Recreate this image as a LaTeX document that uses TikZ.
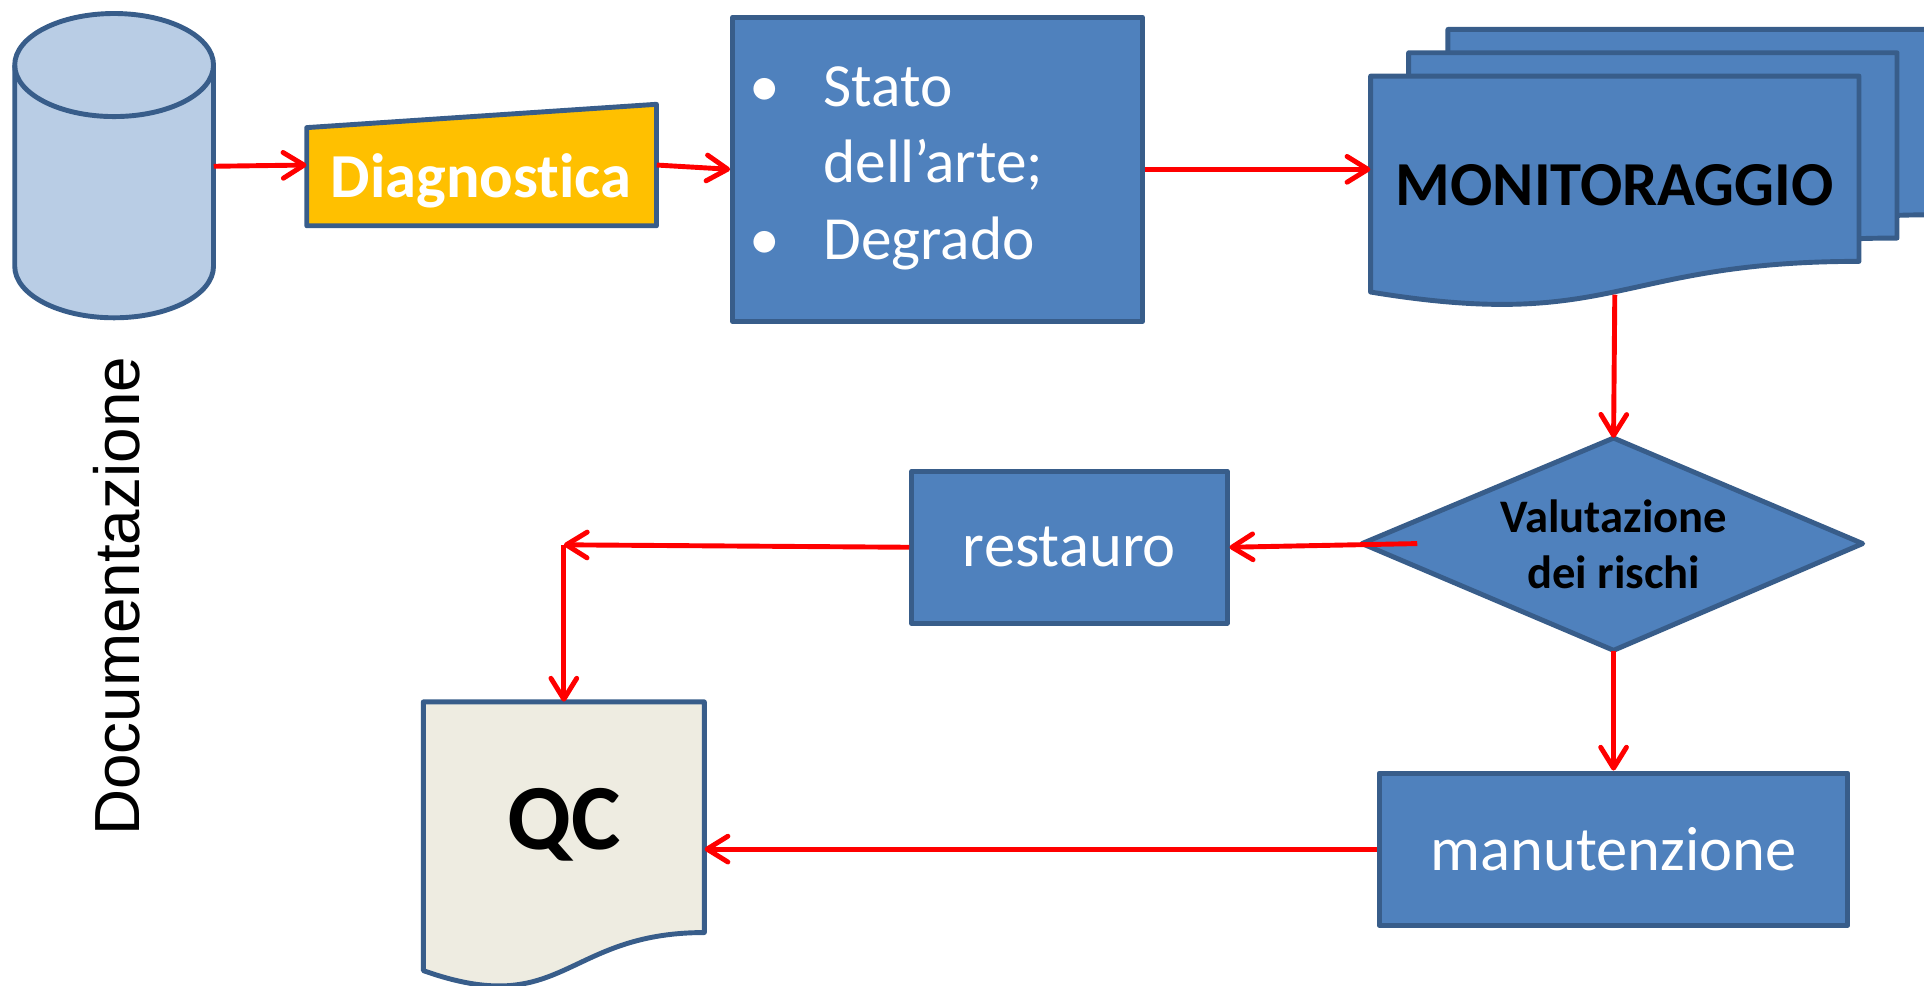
\documentclass[tikz,border=0pt]{standalone}
\usepackage{fontspec}
\newfontfamily\calfont[Ligatures=NoCommon]{Carlito}
\newfontfamily\arialfont{Liberation Sans}
\usetikzlibrary{arrows.meta}
\definecolor{boxfill}{HTML}{4F81BD}
\definecolor{boxline}{HTML}{385D8A}
\definecolor{cylfill}{HTML}{B9CDE5}
\definecolor{diagfill}{HTML}{FFC000}
\definecolor{qcfill}{HTML}{EEECE1}
\definecolor{arrred}{HTML}{FF0000}
\begin{document}
\begin{tikzpicture}[x=1pt,y=-1pt,
  shapeline/.style={draw=boxline,line width=4pt,line join=round},
  bluebox/.style={rectangle,shapeline,fill=boxfill,inner sep=0pt,anchor=north west,text=white,font=\calfont\fontsize{51}{60}\selectfont},
  ghost/.style={rectangle,draw=none,inner sep=0pt},
  arr/.style={draw=arrred,line width=4pt,-{Straight Barb[length=17pt,width=21pt,line width=4pt,round]}},
  bigbold/.style={font=\calfont\bfseries\fontsize{51}{60}\selectfont}]
\useasboundingbox (0,0) rectangle (1568,803);
\clip (0,0) rectangle (1568,803);

% cylinder
\draw[shapeline,fill=cylfill] (12,53) -- (12,217) arc[start angle=180,end angle=360,x radius=81pt,y radius=42pt]
  -- (174,53) arc[start angle=0,end angle=180,x radius=81pt,y radius=42pt] -- cycle;
\draw[shapeline] (12,53) arc[start angle=180,end angle=360,x radius=81pt,y radius=42pt];
\node[ghost,minimum width=162pt,minimum height=247pt] (cyl) at (93,135.5) {};
\node[rotate=90,font=\arialfont\fontsize{52}{60}\selectfont] (doc) at (95,486) {Documentazione};

% Diagnostica
\draw[shapeline,fill=diagfill] (250,104) -- (535,85) -- (535,184) -- (250,184) -- cycle;
\node[ghost,minimum width=285pt,minimum height=99pt] (diag) at (392.5,134.5) {};
\node[bigbold,text=white] (diagtxt) at (392,147) {Diagnostica};

% Stato box
\node[bluebox,minimum width=334pt,minimum height=248pt] (stato) at (595,12) {};
\node[anchor=west,align=left,inner sep=0pt,text=white,font=\calfont\fontsize{50}{62.5}\selectfont] (statotxt) at (611,137)
  {\makebox[60pt][l]{\textbullet}Stato\\\hspace*{60pt}dell’arte;\\\makebox[60pt][l]{\textbullet}Degrado};

% MONITORAGGIO multi-document
\begin{scope}[shift={(63,-38)}]
\draw[shapeline,fill=boxfill] (1117,62) -- (1515,62) -- (1515,213) .. controls (1316,213) and (1316,270.8) .. (1117,238) -- cycle;
\end{scope}
\begin{scope}[shift={(31,-19)}]
\draw[shapeline,fill=boxfill] (1117,62) -- (1515,62) -- (1515,213) .. controls (1316,213) and (1316,270.8) .. (1117,238) -- cycle;
\end{scope}
\draw[shapeline,fill=boxfill] (1117,62) -- (1515,62) -- (1515,213) .. controls (1316,213) and (1316,270.8) .. (1117,238) -- cycle;
\node[ghost,bigbold,minimum width=398pt,minimum height=178pt] (mon) at (1316,151) {MONITORAGGIO};

% diamond
\draw[shapeline,fill=boxfill] (1315,357) -- (1518,443) -- (1315,530) -- (1110,443) -- cycle;
\node[ghost,align=center,minimum width=408pt,minimum height=173pt,font=\calfont\bfseries\fontsize{38}{46}\selectfont] (val) at (1315,443.5) {Valutazione\\dei rischi};
\coordinate (valin) at (1155,443);

% restauro, manutenzione
\node[bluebox,minimum width=257pt,minimum height=124pt] (rest) at (741,382) {restauro};
\node[bluebox,minimum width=382pt,minimum height=124pt] (man) at (1122,628) {manutenzione};

% QC document
\draw[shapeline,fill=qcfill] (345,572) -- (574,572) -- (574,760) .. controls (459.5,760) and (459.5,831.7) .. (345,791) -- cycle;
\node[ghost,font=\calfont\bfseries\fontsize{76}{80}\selectfont,minimum width=229pt,minimum height=200pt] (qc) at (459.5,672) {QC};
\coordinate (corner) at (459.5,444);

% connectors
\draw[arr] (cyl.east) -- (diag.west);
\draw[arr] (diag.east) -- (stato.west);
\draw[arr] (stato.east) -- (stato.east -| mon.west);
\draw[arr] (mon.south) -- (val.north);
\draw[arr] (valin) -- (rest.east);
\draw[arr] (rest.west) -- (corner);
\draw[arr] (corner) -- (qc.north);
\draw[arr] (val.south) -- (man.north);
\draw[arr] (man.west) -- (man.west -| qc.east);
\end{tikzpicture}
\end{document}
